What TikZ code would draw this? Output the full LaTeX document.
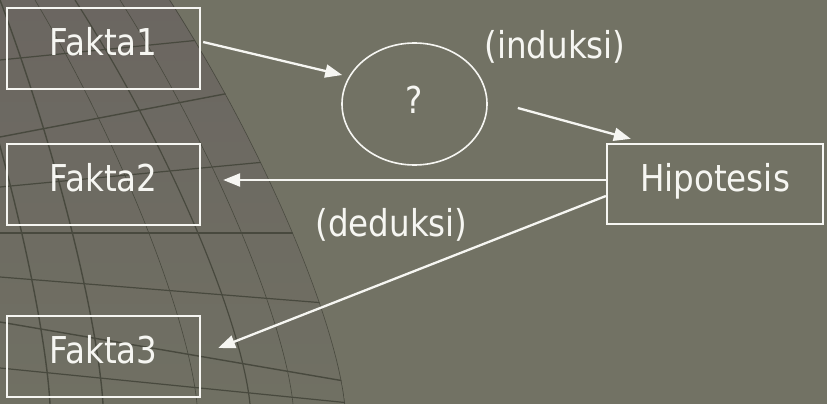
\documentclass[tikz,border=0pt]{standalone}
\usepackage{fontspec}
\setmainfont[FakeStretch=0.88]{DejaVu Sans}
\usepackage{xcolor}
\usetikzlibrary{positioning,arrows.meta,shapes.geometric}

\definecolor{slide}{RGB}{114,114,100}
\definecolor{globetop}{RGB}{107,102,97}
\definecolor{globebot}{RGB}{112,112,99}
\definecolor{gridline}{RGB}{72,73,62}
\definecolor{ink}{RGB}{246,246,242}

\begin{document}
\begin{tikzpicture}[x=1pt, y=-1pt,
  txt/.style={text=ink, font=\fontsize{37}{44}\selectfont},
  fakta/.style={txt, draw=ink, line width=2.3pt, minimum width=193pt, minimum height=81pt,
    inner sep=0pt, text height=27pt, text depth=13pt},
  arr/.style={draw=ink, line width=2.3pt, -{Triangle[length=17pt,width=13pt]}}]

\useasboundingbox (0,0) rectangle (827,404);
\fill[slide] (0,0) rectangle (827,404);

% globe grid in the lower left
\begin{scope}
\clip (0,0) -- (170,0) .. controls (266,150) and (336,320) .. (345,404) -- (0,404) -- cycle;
\shade[top color=globetop, bottom color=globebot] (0,0) rectangle (350,404);
\foreach \t/\b/\w in {170/345/1.4, 120/293/0.6, 75/250/1.2, 35/197/0.6, 0/103/1.4, -45/50/1.4, -90/-5/1.2}
  \draw[gridline, line width=\w pt] (\t,0) .. controls ({\t+0.55*(\b-\t)},150) and ({\b-0.05*(\b-\t)},320) .. (\b,404);
\foreach \l/\r/\w in {60/25/1.2, 137/70/1.4, 187/154/1.2, 233/233/1.4, 277/305/1.2, 322/382/1.4, 368/403/1.2}
  \draw[gridline, line width=\w pt] (0,\l) -- (350,\r);
\end{scope}

\node[fakta] (f1) at (103.5,48.5) {Fakta1};
\node[fakta] (f2) at (103.5,184.5) {Fakta2};
\node[fakta] (f3) at (103.5,356.5) {Fakta3};
\node[fakta, minimum width=216pt, minimum height=80pt] (hip) at (715,184) {Hipotesis};
\node[txt, ellipse, draw=ink, line width=1.6pt, minimum width=145pt, minimum height=122pt,
  inner sep=0pt, text height=27pt, text depth=8pt] (q) at (414.5,104) {?};

\node[txt] (ind) at (555,47) {(induksi)};
\node[txt] (ded) at (391.5,225) {(deduksi)};

\draw[arr] ([shift={(2,-6.5)}]f1.east) -- ([shift={(1,-29)}]q.west);
\draw[arr] ([shift={(30,4)}]q.east) -- ([shift={(25,-4)}]hip.north west);
\draw[arr] ([shift={(0,-4)}]hip.west) -- ([shift={(22,-4.5)}]f2.east);
\draw[arr] ([shift={(0,12)}]hip.west) -- ([shift={(17,-8.5)}]f3.east);

\end{tikzpicture}
\end{document}
